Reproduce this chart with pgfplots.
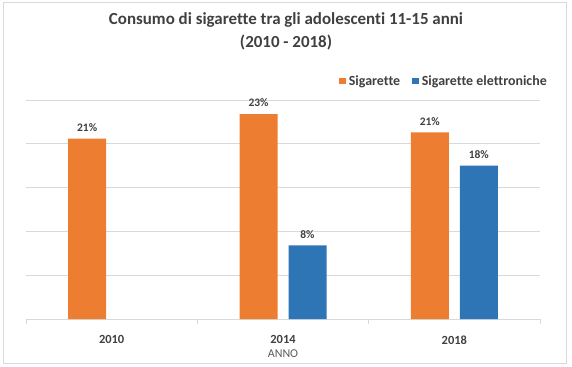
\documentclass[border=0pt]{standalone}
\usepackage{pgfplots}
\pgfplotsset{compat=1.18}
\usepackage{fontspec}
\setmainfont{Carlito}[Ligatures=NoCommon]
\definecolor{cOrange}{HTML}{ED7D31}
\definecolor{cBlue}{HTML}{2E75B6}
\definecolor{cGrid}{HTML}{D9D9D9}
\definecolor{cText}{HTML}{404040}
\definecolor{cLabel}{HTML}{595959}
\begin{document}
\begin{tikzpicture}
\begin{axis}[
  scale only axis,
  width=514bp, height=219bp,
  xmin=-0.5, xmax=2.5,
  ymin=0, ymax=25,
  ytick={5,10,15,20,25},
  yticklabels={},
  ymajorgrids=true,
  grid style={cGrid, line width=0.75bp},
  major y tick style={draw=none},
  axis x line*=bottom,
  axis y line*=left,
  y axis line style={draw=none},
  x axis line style={cGrid, line width=0.9bp, -},
  xtick={0,1,2},
  xticklabels={\textbf{2010},\textbf{2014},\textbf{2018}},
  major x tick style={draw=none},
  minor xtick={-0.5,0.5,1.5,2.5},
  minor tick length=5bp,
  minor x tick style={cGrid, line width=0.9bp},
  tick align=outside,
  xticklabel style={font=\fontsize{12.5}{14}\selectfont, text=cText, inner sep=0pt, yshift=-12bp},
  ybar,
  bar width=38bp,
  nodes near coords,
  point meta=explicit symbolic,
  every node near coord/.append style={font=\fontsize{11.5}{13}\selectfont\bfseries, text=cText, inner sep=0pt, anchor=south, yshift=7bp},
  legend columns=2,
  legend style={at={(1.0136,1.0868)}, anchor=east, draw=none, fill=none, inner sep=0pt,
    font=\fontsize{14}{16}\selectfont\bfseries, text=cText,
    /tikz/every odd column/.append style={column sep=3bp},
    /tikz/every even column/.append style={column sep=12bp},
    nodes={inner sep=0pt}},
  legend image code/.code={\fill[#1] (0bp,-3.3bp) rectangle (6.6bp,3.3bp);},
  clip=false,
]
\addplot[fill=cOrange, draw=none, bar shift=-24.5bp] coordinates {(0,20.6) [21\%] (1,23.4) [23\%] (2,21.3) [21\%]};
\addplot[fill=cBlue, draw=none, bar shift=24.5bp] coordinates {(1,8.4) [8\%] (2,17.5) [18\%]};
\legend{Sigarette, Sigarette elettroniche}
\end{axis}
% bounding box and chart border
\path (-26bp,-48bp) rectangle (546bp,319bp);
\draw[cGrid, line width=0.9bp] (-23bp,-44bp) rectangle (540bp,317bp);
% title
\node[font=\fontsize{17}{19}\selectfont\bfseries, text=cText] at (260bp,299bp) {Consumo di sigarette tra gli adolescenti 11-15 anni};
\node[font=\fontsize{17}{19}\selectfont\bfseries, text=cText] at (260bp,277bp) {(2010 - 2018)};
% x label
\node[font=\fontsize{12}{14}\selectfont, text=cLabel, anchor=base] at (257bp,-38bp) {ANNO};
\end{tikzpicture}
\end{document}
